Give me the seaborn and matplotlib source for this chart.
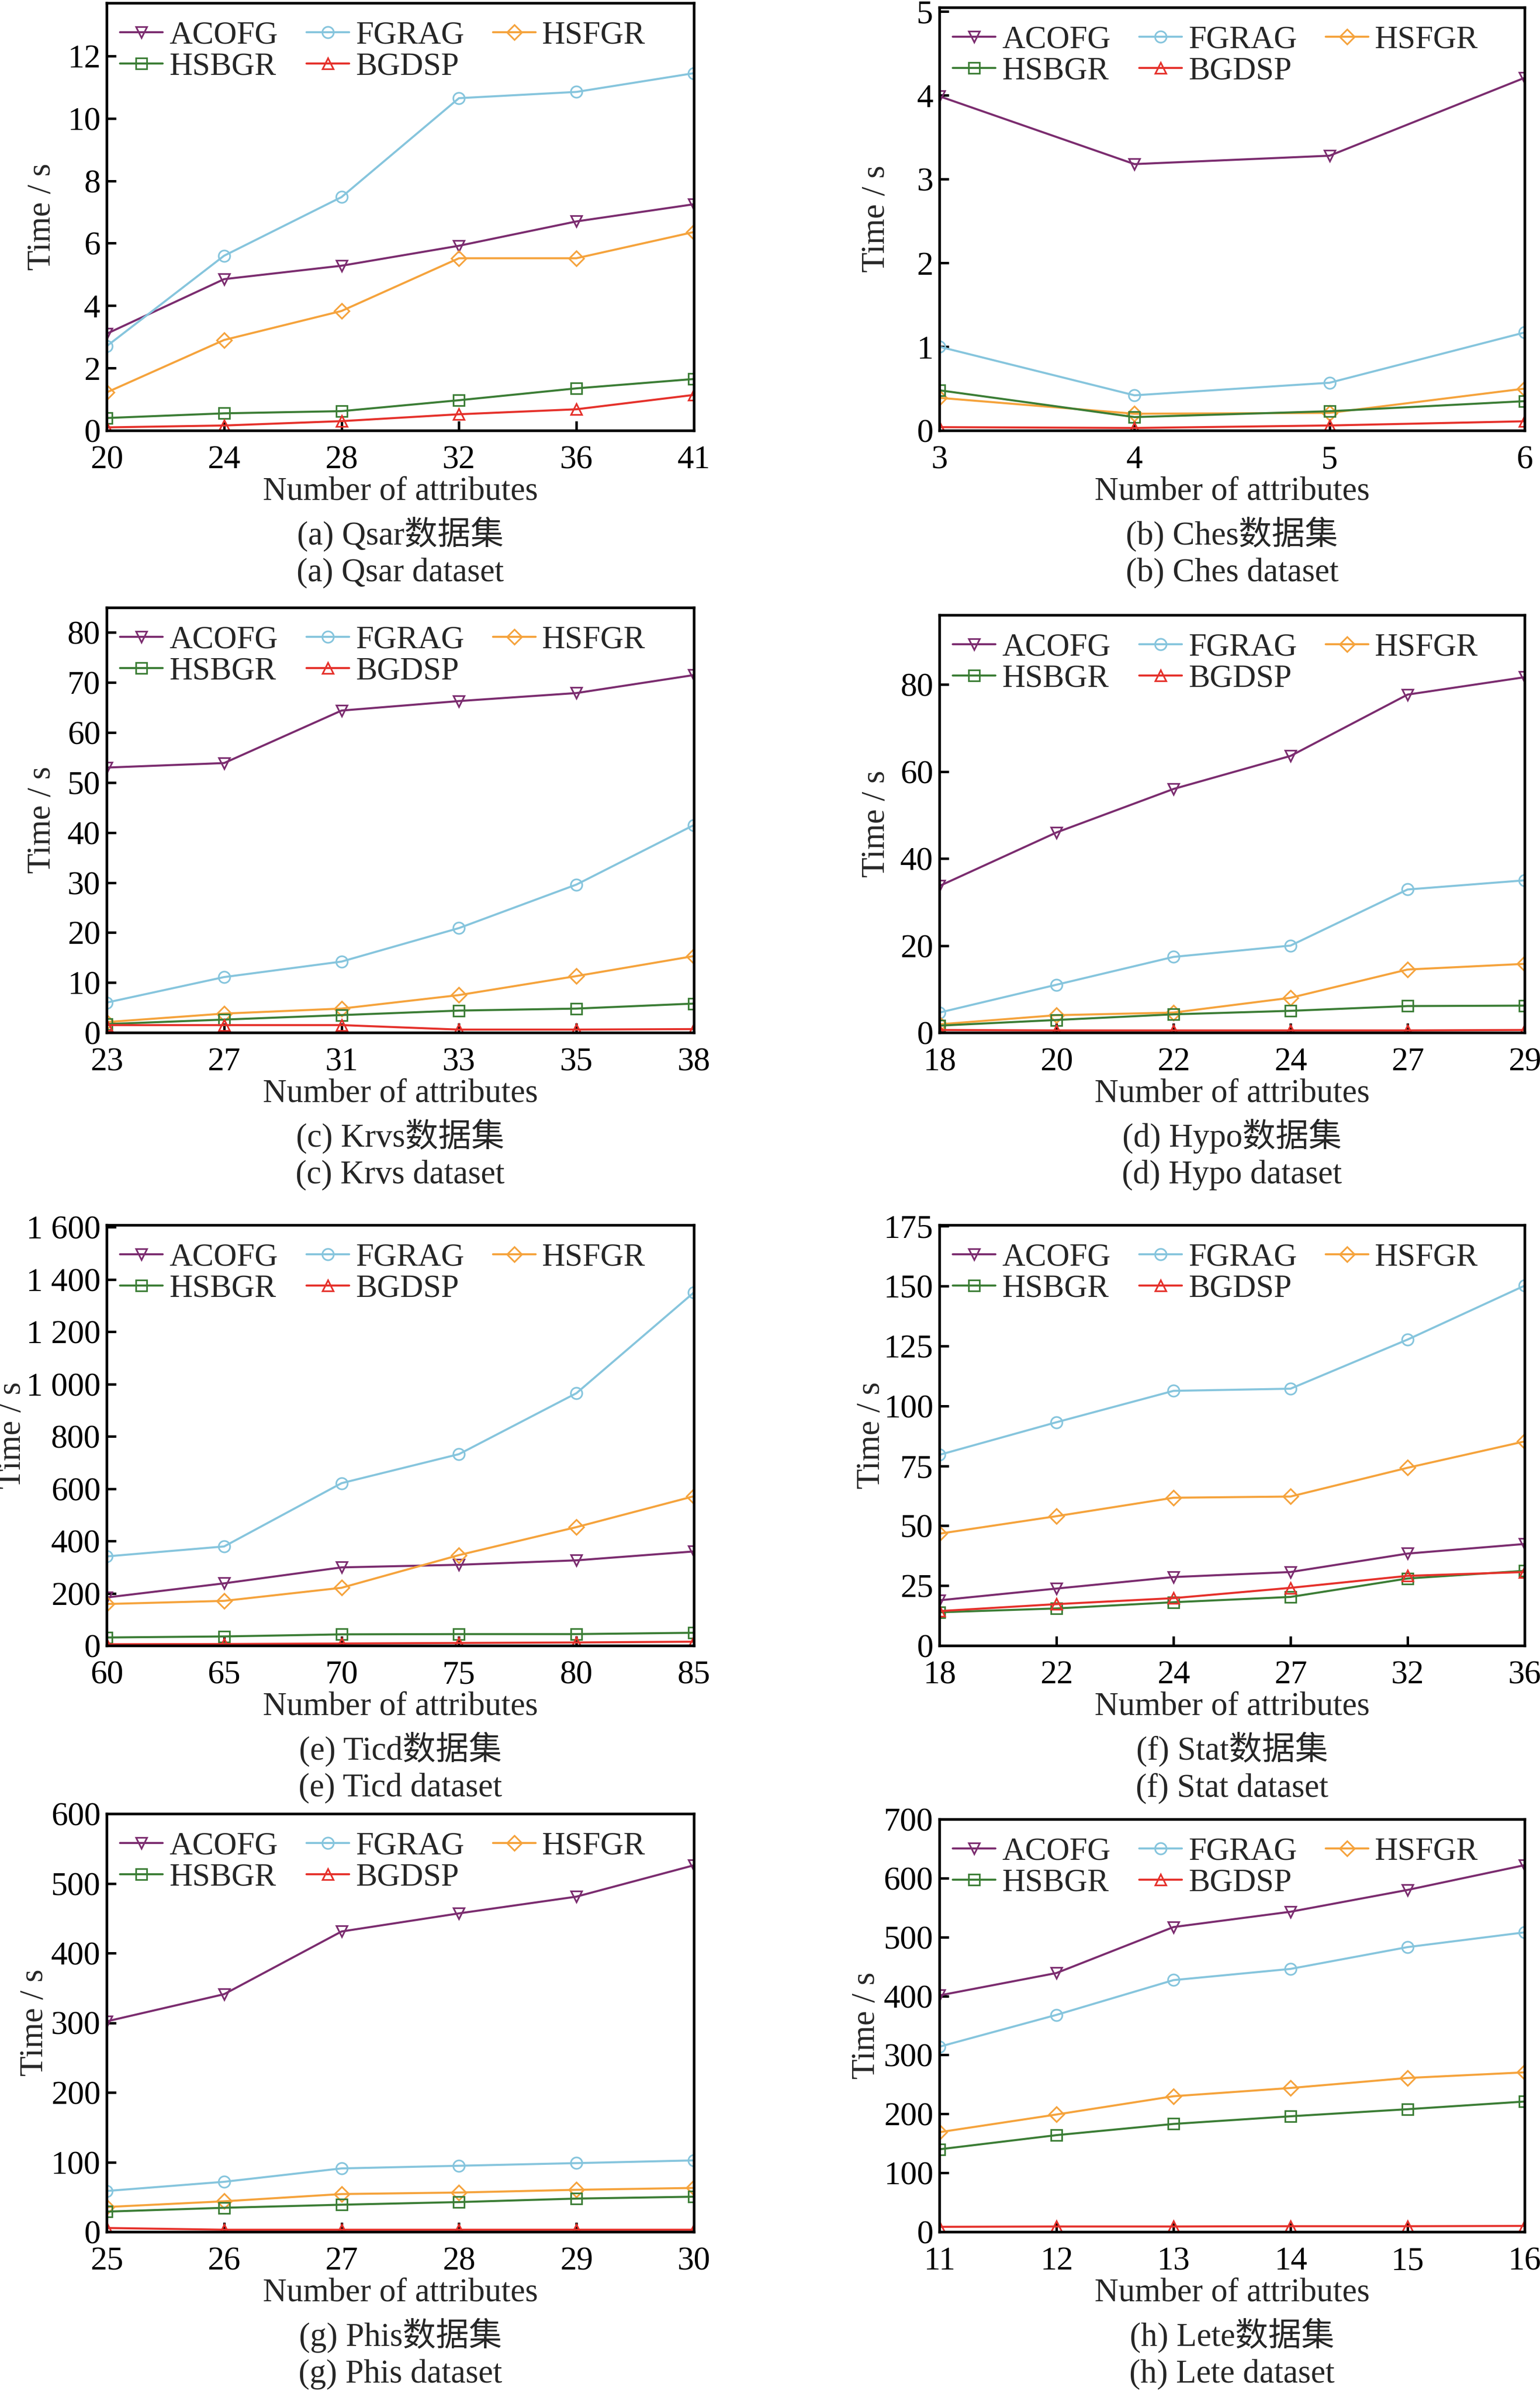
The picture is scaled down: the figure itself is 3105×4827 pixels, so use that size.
"""各数据集上属性数与运行时间的对比图。"""

import matplotlib

matplotlib.use("Agg")
import matplotlib.pyplot as plt
import matplotlib.transforms as mtransforms
import pandas as pd
import seaborn as sns
from matplotlib.ticker import FixedLocator, FuncFormatter

METHODS = ["ACOFG", "FGRAG", "HSFGR", "HSBGR", "BGDSP"]
COLORS = ["#7B2C6F", "#86C5DD", "#F5A33C", "#3B7D35", "#E5312B"]
MARKERS = ["v", "o", "D", "s", "^"]

# (a) Qsar
qsar_attrs = [20, 24, 28, 32, 36, 41]
qsar_acofg = [3.1, 4.85, 5.28, 5.92, 6.70, 7.25]
qsar_fgrag = [2.7, 5.6, 7.48, 10.65, 10.85, 11.45]
qsar_hsfgr = [1.22, 2.9, 3.83, 5.52, 5.52, 6.36]
qsar_hsbgr = [0.40, 0.55, 0.62, 0.97, 1.35, 1.65]
qsar_bgdsp = [0.10, 0.16, 0.30, 0.52, 0.68, 1.14]

# (b) Ches
ches_attrs = [3, 4, 5, 6]
ches_acofg = [3.99, 3.18, 3.28, 4.21]
ches_fgrag = [1.0, 0.42, 0.57, 1.17]
ches_hsfgr = [0.39, 0.20, 0.21, 0.50]
ches_hsbgr = [0.48, 0.16, 0.23, 0.35]
ches_bgdsp = [0.04, 0.03, 0.06, 0.11]

# (c) Krvs
krvs_attrs = [23, 27, 31, 33, 35, 38]
krvs_acofg = [53.0, 53.9, 64.4, 66.3, 67.9, 71.5]
krvs_fgrag = [6.0, 11.1, 14.2, 20.9, 29.6, 41.5]
krvs_hsfgr = [2.1, 3.8, 4.8, 7.5, 11.3, 15.3]
krvs_hsbgr = [1.7, 2.6, 3.5, 4.4, 4.8, 5.8]
krvs_bgdsp = [1.5, 1.5, 1.5, 0.6, 0.6, 0.7]

# (d) Hypo
hypo_attrs = [18, 20, 22, 24, 27, 29]
hypo_acofg = [33.7, 46.0, 56.0, 63.6, 77.7, 81.7]
hypo_fgrag = [4.6, 11.0, 17.4, 20.0, 32.9, 35.0]
hypo_hsfgr = [1.9, 4.0, 4.6, 8.0, 14.5, 15.8]
hypo_hsbgr = [1.6, 2.9, 4.2, 5.0, 6.1, 6.2]
hypo_bgdsp = [0.6, 0.5, 0.5, 0.5, 0.5, 0.6]

# (e) Ticd
ticd_attrs = [60, 65, 70, 75, 80, 85]
ticd_acofg = [184, 238, 299, 309, 326, 360]
ticd_fgrag = [341, 379, 621, 732, 965, 1350]
ticd_hsfgr = [159, 171, 221, 346, 453, 571]
ticd_hsbgr = [31, 35, 43, 44, 44, 49]
ticd_bgdsp = [5, 6, 8, 10, 12, 15]

# (f) Stat
stat_attrs = [18, 22, 24, 27, 32, 36]
stat_acofg = [18.9, 23.8, 28.6, 30.7, 38.4, 42.4]
stat_fgrag = [79.6, 93.2, 106.3, 107.2, 127.7, 150.2]
stat_hsfgr = [46.7, 54.0, 61.7, 62.2, 74.2, 85.2]
stat_hsbgr = [13.9, 15.5, 18.1, 20.3, 28.0, 31.2]
stat_bgdsp = [14.4, 17.3, 19.8, 24.1, 29.1, 30.7]

# (g) Phis
phis_attrs = [25, 26, 27, 28, 29, 30]
phis_acofg = [302, 341, 431, 457, 481, 526]
phis_fgrag = [58.6, 71.8, 91.0, 94.8, 98.6, 102.5]
phis_hsfgr = [35.6, 43.8, 54.2, 56.4, 60.3, 63.0]
phis_hsbgr = [29.0, 34.5, 38.9, 42.7, 47.7, 50.4]
phis_bgdsp = [5.5, 3.0, 3.0, 3.0, 3.0, 3.0]

# (h) Lete
lete_attrs = [11, 12, 13, 14, 15, 16]
lete_acofg = [401, 439, 517, 543, 580, 622]
lete_fgrag = [314, 368, 427, 446, 483, 508]
lete_hsfgr = [169, 199, 230, 244, 261, 270.5]
lete_hsbgr = [140, 164, 183, 196, 208, 221]
lete_bgdsp = [8.5, 9.0, 9.0, 9.5, 9.5, 10.0]

# y 轴刻度
qsar_yticks = [0, 2, 4, 6, 8, 10, 12]
ches_yticks = [0, 1, 2, 3, 4, 5]
krvs_yticks = [0, 10, 20, 30, 40, 50, 60, 70, 80]
hypo_yticks = [0, 20, 40, 60, 80]
ticd_yticks = [0, 200, 400, 600, 800, 1000, 1200, 1400, 1600]
stat_yticks = [0, 25, 50, 75, 100, 125, 150, 175]
phis_yticks = [0, 100, 200, 300, 400, 500, 600]
lete_yticks = [0, 100, 200, 300, 400, 500, 600, 700]

PANELS = [
    ("a", "Qsar", qsar_attrs, [qsar_acofg, qsar_fgrag, qsar_hsfgr, qsar_hsbgr, qsar_bgdsp], qsar_yticks, 13.7),
    ("b", "Ches", ches_attrs, [ches_acofg, ches_fgrag, ches_hsfgr, ches_hsbgr, ches_bgdsp], ches_yticks, 5.05),
    ("c", "Krvs", krvs_attrs, [krvs_acofg, krvs_fgrag, krvs_hsfgr, krvs_hsbgr, krvs_bgdsp], krvs_yticks, 85),
    ("d", "Hypo", hypo_attrs, [hypo_acofg, hypo_fgrag, hypo_hsfgr, hypo_hsbgr, hypo_bgdsp], hypo_yticks, 96),
    ("e", "Ticd", ticd_attrs, [ticd_acofg, ticd_fgrag, ticd_hsfgr, ticd_hsbgr, ticd_bgdsp], ticd_yticks, 1608),
    ("f", "Stat", stat_attrs, [stat_acofg, stat_fgrag, stat_hsfgr, stat_hsbgr, stat_bgdsp], stat_yticks, 175.5),
    ("g", "Phis", phis_attrs, [phis_acofg, phis_fgrag, phis_hsfgr, phis_hsbgr, phis_bgdsp], phis_yticks, 600),
    ("h", "Lete", lete_attrs, [lete_acofg, lete_fgrag, lete_hsfgr, lete_hsbgr, lete_bgdsp], lete_yticks, 700),
]

# 版面 (像素)
W, H = 3105, 4827
COL_X = [(215, 1399), (1894, 3074)]
ROW_Y = [[(6, 868), (15, 868)], [(1225, 2082), (1240, 2082)],
         [(2470, 3318), (2470, 3318)], [(3657, 4500), (3668, 4500)]]
YLABEL_X = [85, 1767, 85, 1767, 25, 1757, 70, 1747]

sns.set_style("ticks")
plt.rcParams["font.family"] = ["Liberation Serif", "Noto Sans CJK SC"]
plt.rcParams["axes.unicode_minus"] = False

fig = plt.figure(figsize=(W / 300, H / 300), dpi=300)


def thousands(v, _):
    v = int(round(v))
    return f"{v:,}".replace(",", " ")


for i, (tag, name, attrs, series, yticks, ytop) in enumerate(PANELS):
    row, col = divmod(i, 2)
    x0, x1 = COL_X[col]
    t, b = ROW_Y[row][col]
    ax = fig.add_axes([x0 / W, 1 - b / H, (x1 - x0) / W, (b - t) / H])

    pos = list(range(len(attrs)))
    for method, vals, color, marker in zip(METHODS, series, COLORS, MARKERS):
        df = pd.DataFrame({"pos": pos, "time": vals})
        sns.lineplot(
            data=df, x="pos", y="time", ax=ax, color=color, label=method,
            linewidth=1.0, marker=marker, markersize=5.5 if marker != "D" else 5.0,
            markerfacecolor="none", markeredgecolor=color, markeredgewidth=0.8,
        )

    ax.set_xlim(0, len(attrs) - 1)
    ax.set_ylim(0, ytop)
    ax.xaxis.set_major_locator(FixedLocator(pos))
    ax.set_xticklabels([str(a) for a in attrs])
    ax.yaxis.set_major_locator(FixedLocator(yticks))
    ax.yaxis.set_major_formatter(FuncFormatter(thousands))
    ax.tick_params(direction="in", length=4.5, width=1.2, labelsize=16,
                   top=False, right=False, colors="black")
    ax.tick_params(axis="x", pad=7)
    ax.tick_params(axis="y", pad=3)
    for sp in ax.spines.values():
        sp.set_visible(True)
        sp.set_linewidth(1.3)
        sp.set_color("black")

    ax.set_xlabel("Number of attributes", fontsize=16, labelpad=0.5)
    ax.set_ylabel("Time / s", fontsize=16)
    ax.yaxis.set_label_coords(
        YLABEL_X[i] / W, 0.5,
        transform=mtransforms.blended_transform_factory(fig.transFigure, ax.transAxes),
    )
    ax.yaxis.label.set_verticalalignment("center")

    handles, labels = ax.get_legend_handles_labels()
    order = [0, 3, 1, 4, 2]
    ax.legend([handles[k] for k in order], [labels[k] for k in order],
              ncol=3, loc="upper left", frameon=False, fontsize=15.5,
              bbox_to_anchor=(0, 1 - 9 / (b - t)),
              handlelength=1.33, handletextpad=0.2, columnspacing=0.9,
              labelspacing=0.05, borderpad=0, borderaxespad=0.42)

    ax.annotate(f"({tag}) {name}数据集", xy=(0.5, 0), xycoords="axes fraction",
                xytext=(0, -50), textcoords="offset points",
                ha="center", va="center", fontsize=16)
    ax.annotate(f"({tag}) {name} dataset", xy=(0.5, 0), xycoords="axes fraction",
                xytext=(0, -69), textcoords="offset points",
                ha="center", va="center", fontsize=16)

fig.savefig("out.png", dpi=300, facecolor="white")
